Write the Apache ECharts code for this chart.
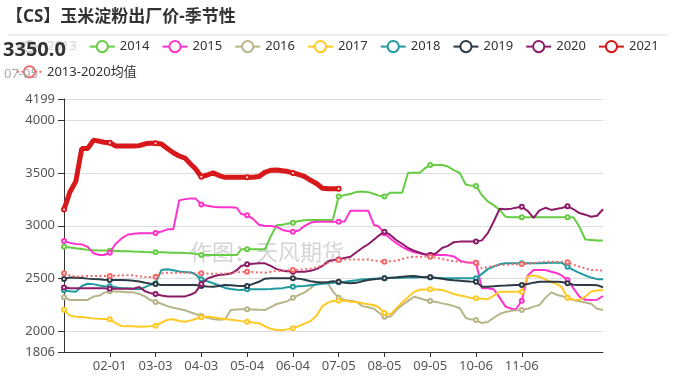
<!DOCTYPE html>
<html><head><meta charset="utf-8">
<script src="https://cdn.jsdelivr.net/npm/echarts@6/dist/echarts.min.js"></script>
<style>html,body{margin:0;padding:0;background:#fff}#c{width:676px;height:388px}</style>
</head><body><div id="c"></div>
<script>
// sample day indices (0 = 01-01 of a leap-year calendar)
const sampleDays = [0,4,8,12,16,20,24,27, 31,35,39,43,47,51,55,58, 62,66,70,74,78,82,86,89, 93,97,101,105,109,113,117,120, 124,128,132,136,140,144,148,151, 155,159,163,167,171,175,179,182, 186,190,194,198,202,206,210,213, 217,221,225,229,233,237,241,244, 248,252,256,260,264,268,272,275, 279,283,287,291,295,299,303,306, 310,314,318,322,326,330,334,337, 341,345,349,353,357,361,365];

const v2013 = [];
const v2014 = [2802,2795,2787,2780,2772,2768,2765,2765, 2764,2762,2760,2758,2756,2755,2752,2750, 2749,2749,2748,2745,2745,2742,2740,2735, 2723,2723,2723,2723,2723,2723,2723,2777, 2777,2777,2777,2777,2900,3005,3010,3020, 3029,3045,3052,3054,3054,3054,3054,3054, 3276,3290,3300,3320,3325,3318,3300,3285, 3276,3313,3313,3313,3502,3502,3502,3540, 3575,3575,3575,3560,3527,3500,3390,3380, 3376,3290,3230,3195,3150,3086,3080,3080, 3080,3080,3080,3080,3080,3080,3080,3080, 3080,3080,2990,2870,2865,2860,2860];
const v2015 = [2856,2838,2827,2824,2800,2740,2723,2723, 2745,2830,2880,2915,2925,2929,2929,2929, 2932,2945,2966,2966,3240,3252,3259,3259, 3200,3190,3180,3175,3175,3175,3170,3111, 3100,3065,3010,2998,2998,2990,2960,2950, 2944,2955,3000,3030,3038,3038,3038,3038, 3038,3040,3143,3143,3143,3143,3007,2995, 2930,2880,2835,2800,2770,2750,2740,2730, 2723,2723,2723,2720,2710,2670,2655,2650, 2650,2408,2408,2400,2320,2235,2215,2210, 2291,2530,2582,2582,2582,2565,2550,2530, 2487,2408,2330,2300,2298,2300,2336];
const v2016 = [2325,2298,2298,2298,2298,2330,2340,2365, 2380,2378,2375,2372,2370,2355,2330,2300, 2280,2262,2240,2225,2212,2200,2180,2165, 2146,2130,2118,2110,2115,2203,2208,2210, 2210,2208,2205,2203,2230,2260,2275,2285, 2320,2345,2370,2410,2456,2470,2450,2380, 2320,2298,2290,2282,2240,2230,2215,2180, 2140,2140,2200,2250,2290,2329,2314,2300, 2288,2280,2266,2255,2240,2220,2130,2115, 2108,2080,2090,2130,2165,2185,2195,2200, 2203,2215,2235,2250,2320,2370,2345,2335, 2318,2298,2285,2275,2262,2215,2203];
const v2017 = [2205,2150,2140,2138,2130,2124,2120,2118, 2115,2080,2052,2050,2050,2045,2048,2050, 2055,2085,2110,2115,2100,2093,2105,2118, 2134,2140,2135,2125,2118,2110,2105,2098, 2093,2085,2078,2050,2025,2015,2015,2020, 2030,2050,2075,2100,2150,2240,2275,2288, 2291,2290,2282,2280,2268,2258,2248,2230, 2175,2160,2219,2275,2325,2375,2395,2398, 2399,2397,2392,2375,2355,2340,2330,2320, 2314,2310,2305,2340,2376,2376,2376,2376, 2376,2520,2530,2518,2490,2468,2445,2420, 2320,2300,2298,2330,2378,2388,2392];
const v2018 = [2390,2380,2375,2430,2452,2448,2435,2428, 2428,2418,2410,2408,2405,2400,2420,2440, 2455,2582,2588,2580,2568,2562,2558,2540, 2493,2475,2456,2435,2412,2402,2395,2392, 2399,2399,2399,2399,2402,2406,2410,2418, 2424,2428,2430,2438,2445,2452,2456,2460, 2465,2470,2478,2485,2493,2496,2500,2502, 2503,2505,2507,2509,2510,2511,2512,2512, 2512,2508,2505,2503,2503,2503,2503,2503, 2503,2545,2590,2615,2635,2645,2645,2645, 2645,2645,2645,2645,2648,2650,2651,2651, 2613,2580,2555,2530,2510,2495,2493];
const v2019 = [2496,2510,2508,2505,2500,2496,2493,2490, 2488,2487,2487,2485,2480,2472,2462,2455, 2449,2440,2440,2440,2440,2440,2440,2440, 2430,2426,2424,2430,2440,2438,2432,2430, 2430,2450,2470,2500,2503,2503,2503,2503, 2503,2500,2490,2475,2468,2462,2468,2475, 2471,2462,2456,2460,2475,2487,2495,2500, 2503,2508,2512,2518,2522,2525,2518,2514, 2512,2505,2498,2490,2484,2480,2476,2473, 2471,2424,2424,2428,2433,2435,2438,2440, 2440,2450,2462,2470,2471,2471,2471,2468, 2456,2442,2440,2440,2440,2438,2418];
const v2020 = [2415,2410,2408,2408,2408,2408,2408,2408, 2405,2405,2405,2405,2405,2420,2380,2365, 2355,2340,2330,2330,2330,2332,2350,2370, 2450,2500,2520,2534,2540,2548,2580,2620, 2635,2640,2645,2645,2620,2590,2575,2570, 2566,2566,2566,2575,2590,2620,2665,2675, 2682,2695,2707,2750,2790,2825,2870,2905, 2944,2913,2865,2830,2790,2765,2745,2730, 2723,2740,2790,2810,2845,2850,2850,2850, 2850,2862,2930,3040,3160,3156,3162,3170, 3181,3140,3075,3145,3170,3150,3160,3168, 3185,3156,3120,3105,3085,3095,3156];
const v2021 = [3155,3320,3420,3730,3730,3810,3800,3790, 3786,3755,3755,3755,3755,3758,3775,3780, 3780,3773,3730,3690,3660,3640,3580,3540, 3464,3480,3500,3475,3458,3458,3458,3458, 3458,3458,3465,3505,3525,3527,3520,3515, 3500,3485,3465,3430,3400,3355,3350,3350, 3350];
const vAvg = [2550,2530,2520,2522,2524,2525,2525,2525, 2525,2528,2530,2533,2530,2520,2516,2515, 2518,2550,2555,2556,2556,2555,2553,2551, 2550,2548,2546,2545,2548,2554,2560,2563, 2566,2562,2558,2556,2565,2572,2576,2579, 2582,2585,2588,2595,2605,2625,2650,2665, 2675,2680,2680,2682,2682,2680,2670,2665, 2660,2665,2670,2685,2700,2707,2707,2707, 2707,2698,2685,2675,2665,2660,2655,2652, 2650,2598,2610,2620,2628,2632,2635,2637, 2638,2642,2648,2655,2660,2660,2660,2660, 2655,2630,2613,2598,2582,2580,2575];

const seriesNames = ['2013','2014','2015','2016','2017','2018','2019','2020','2021','2013-2020均值'];
const seriesValues = [v2013,v2014,v2015,v2016,v2017,v2018,v2019,v2020,v2021,vAvg];
const seriesColors = ['#7fb3d5','#66cc44','#ff33cc','#b8b48a','#ffc926','#1f9a9e','#2b3a44','#8c1c68','#d7191c','#f26a6a'];
const yMin = 1806, yMax = 4199;

// categories: every calendar day of a leap year, MM-DD
const categories = [];
for (let m = 0; m < 12; m++) {
  const days = new Date(2020, m + 1, 0).getDate();
  for (let d = 1; d <= days; d++) categories.push(String(m + 1).padStart(2, '0') + '-' + String(d).padStart(2, '0'));
}
function expand(vals) {
  const arr = new Array(categories.length).fill(null);
  vals.forEach((v, k) => { if (v != null) arr[sampleDays[k]] = v; });
  return arr;
}
let lastK = v2021.length - 1;
const lastVal = v2021[lastK].toFixed(1);
const lastDate = categories[sampleDays[lastK]];

const FONT = '"Noto Sans", "Noto Sans CJK SC", sans-serif';
const labelIdx = i => i % 31 === 0;
const series = seriesNames.map((n, i) => {
  const s = {
    name: n, type: 'line', data: expand(seriesValues[i]), connectNulls: true,
    symbol: 'emptyCircle', symbolSize: 4, showAllSymbol: 'auto',
    color: seriesColors[i],
    lineStyle: { width: 2, color: seriesColors[i] },
    itemStyle: { color: seriesColors[i], borderWidth: 1 },
    emphasis: { disabled: true }, z: 2 + i * 0.01
  };
  if (n === '2021') { s.lineStyle.width = 5; s.z = 5; }
  if (n === '2013-2020均值') { s.lineStyle.type = [2, 2.5]; s.lineStyle.width = 2; }
  return s;
});

const chart = echarts.init(document.getElementById('c'), null, { renderer: 'canvas' });
chart.setOption({
  animation: false,
  backgroundColor: '#fff',
  textStyle: { fontFamily: FONT },
  title: { text: '【CS】玉米淀粉出厂价-季节性', left: 6, top: 9, padding: 0,
    textStyle: { fontSize: 17, fontWeight: 'bold', color: '#333', fontFamily: FONT } },
  legend: {
    left: 16, top: 40, right: 8, padding: 0, itemWidth: 25, itemHeight: 14, itemGap: 12,
    textStyle: { fontSize: 13, color: '#333', fontFamily: FONT },
    selected: { '2013': false },
    data: seriesNames
  },
  grid: { left: 64, right: 73, top: 99, bottom: 36, containLabel: false },
  xAxis: {
    type: 'category', data: categories, boundaryGap: false,
    axisLine: { lineStyle: { color: '#333' } },
    axisTick: { alignWithLabel: true, length: 5, lineStyle: { color: '#333' },
      interval: (i) => labelIdx(i) && i > 0 && i < 341 },
    axisLabel: { interval: 30, fontSize: 13, color: '#555', margin: 8,
      formatter: (v, i) => (i > 0 && i < 341) ? v : '' },
    splitLine: { show: false }
  },
  yAxis: {
    type: 'value', min: yMin, max: yMax,
    axisLine: { show: true, lineStyle: { color: '#333' } },
    axisTick: { show: true, length: 6, lineStyle: { color: '#333' } },
    axisLabel: { fontSize: 13, color: '#555', margin: 9, formatter: v => String(v) },
    splitLine: { lineStyle: { color: '#ddd' } }
  },
  graphic: [
    { type: 'line', shape: { x1: 8, y1: 35, x2: 668, y2: 35 }, style: { stroke: '#ddd', lineWidth: 1 }, silent: true },
    { type: 'text', x: 190, y: 241, z: 1, style: { text: '作图：天风期货', font: '22px "Noto Sans CJK SC", sans-serif', fill: 'rgba(160,160,160,0.45)' }, silent: true },
    { type: 'text', x: 3, y: 40, z: 100, style: { text: lastVal, font: 'bold 20px "Noto Sans", sans-serif', fill: '#333' } },
    { type: 'text', x: 4, y: 68, z: 100, style: { text: lastDate, font: '13px "Noto Sans", sans-serif', fill: '#aaa' } }
  ],
  series: series
});
</script></body></html>
